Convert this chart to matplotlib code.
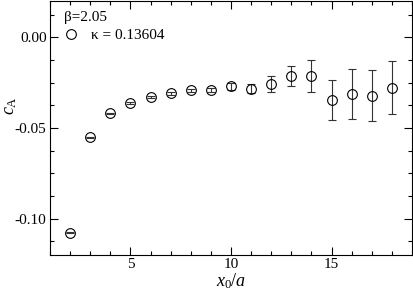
import numpy as np
import matplotlib.pyplot as plt
from matplotlib.ticker import MultipleLocator
from matplotlib.lines import Line2D

# data
x0 = [2, 3, 4, 5, 6, 7, 8, 9, 10, 11, 12, 13, 14, 15, 16, 17, 18]
c_A = [-0.1077, -0.0552, -0.0418, -0.0361, -0.0330, -0.0308, -0.0293, -0.0289,
       -0.0271, -0.0284, -0.0260, -0.0213, -0.0213, -0.0348, -0.0313, -0.0323,
       -0.0277]
c_A_err = [0.0003, 0.0003, 0.0003, 0.0004, 0.0006, 0.0008, 0.0010, 0.0012,
           0.0018, 0.0024, 0.0044, 0.0057, 0.0086, 0.0110, 0.0139, 0.0140,
           0.0146]

plt.rcParams["font.family"] = ["Liberation Serif", "DejaVu Serif"]
plt.rcParams["mathtext.fontset"] = "custom"
plt.rcParams["mathtext.rm"] = "Liberation Serif"
plt.rcParams["mathtext.it"] = "Liberation Serif:italic"

fig = plt.figure(figsize=(4.14, 2.92), dpi=100)
ax = fig.add_axes([50 / 414, 1 - 255 / 292, 362 / 414, 254 / 292])

ax.errorbar(x0, c_A, yerr=c_A_err, fmt="o", mfc="none", mec="black",
            ms=7, mew=0.8, ecolor="#333333", elinewidth=0.8, capsize=3,
            capthick=0.8)

ax.set_xlim(1, 19)
ax.set_ylim(-0.12, 0.02)
ax.xaxis.set_major_locator(MultipleLocator(5))
ax.xaxis.set_minor_locator(MultipleLocator(1))
ax.yaxis.set_major_locator(MultipleLocator(0.05))
ax.yaxis.set_minor_locator(MultipleLocator(0.0125))
ax.yaxis.set_major_formatter(plt.FuncFormatter(lambda v, p: f"{v:.2f}"))
ax.tick_params(which="both", direction="in", top=True, right=True,
               labelsize=11, width=0.8)
ax.tick_params(which="major", length=6, pad=2.5)
ax.tick_params(which="minor", length=3)
for s in ax.spines.values():
    s.set_linewidth(0.8)

ax.set_xlabel(r"$x_0/a$", fontsize=13, labelpad=0)
ax.set_ylabel(r"$c_{\mathrm{A}}$", fontsize=13)
ax.yaxis.set_label_coords(-0.085, 0.59)

handle = Line2D([], [], ls="none", marker="o", mfc="none", mec="black",
                ms=7, mew=0.8)
leg = ax.legend([handle], ["κ = 0.13604"], loc="upper left", title="β=2.05",
                frameon=False, fontsize=11, title_fontsize=11,
                alignment="left", handletextpad=0.8, borderaxespad=0.0,
                borderpad=0.3, handlelength=1.0, labelspacing=0.3,
                bbox_to_anchor=(0.025, 0.98))

fig.savefig("out.png", dpi=100)
